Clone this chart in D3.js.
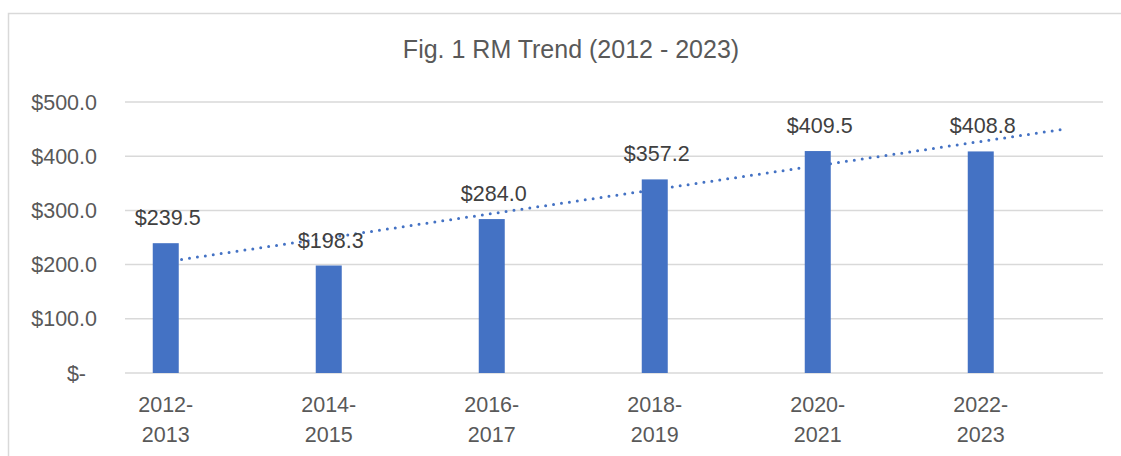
<!DOCTYPE html>
<html>
<head>
<meta charset="utf-8">
<script src="https://cdn.jsdelivr.net/npm/d3@7"></script>
<style>
  html, body { margin: 0; padding: 0; background: #fff; }
  svg { display: block; font-family: "Liberation Sans", Arial, sans-serif; }
</style>
</head>
<body>
<svg id="chart" width="1121" height="456"></svg>
<script>
const title = "Fig. 1 RM Trend (2012 - 2023)";
const categoriesLine1 = ["2012-", "2014-", "2016-", "2018-", "2020-", "2022-"];
const categoriesLine2 = ["2013", "2015", "2017", "2019", "2021", "2023"];
const values = [239.5, 198.3, 284.0, 357.2, 409.5, 408.8];
const yTicks = [0, 100, 200, 300, 400, 500];

const svg = d3.select("#chart");

// chart border (top and left visible)
svg.append("path")
  .attr("d", "M8.5,456 L8.5,13.5 L1121,13.5")
  .attr("fill", "none").attr("stroke", "#d9d9d9").attr("stroke-width", 1.5);

const x = d3.scaleLinear().domain([-0.25, 5.75]).range([125, 1103]);
const y = d3.scaleLinear().domain([0, 500]).range([373, 102]);

// title
svg.append("text")
  .attr("x", 571).attr("y", 58)
  .attr("text-anchor", "middle")
  .attr("font-size", 25).attr("fill", "#595959")
  .text(title);

// gridlines
svg.append("g").selectAll("line").data(yTicks).join("line")
  .attr("x1", x.range()[0]).attr("x2", x.range()[1])
  .attr("y1", d => y(d)).attr("y2", d => y(d))
  .attr("stroke", "#d9d9d9").attr("stroke-width", 1.5);

// y tick labels
svg.append("g").selectAll("text").data(yTicks).join("text")
  .attr("x", d => d === 0 ? 86 : 97)
  .attr("y", d => y(d) + 7.5)
  .attr("text-anchor", "end")
  .attr("font-size", 21.5).attr("fill", "#595959")
  .text(d => d === 0 ? "$-" : "$" + d.toFixed(1));

// trendline (linear regression over category index 1..n, forecast forward 0.5)
const n = values.length;
const xs = values.map((_, i) => i + 1);
const mx = d3.mean(xs), my = d3.mean(values);
const slope = d3.sum(xs.map((xi, i) => (xi - mx) * (values[i] - my))) / d3.sum(xs.map(xi => (xi - mx) ** 2));
const intercept = my - slope * mx;
const tStart = 1, tEnd = n + 0.5;
svg.append("line")
  .attr("x1", x(tStart - 1)).attr("y1", y(intercept + slope * tStart))
  .attr("x2", x(tEnd - 1)).attr("y2", y(intercept + slope * tEnd))
  .attr("stroke", "#4472C4").attr("stroke-width", 3)
  .attr("stroke-linecap", "round").attr("stroke-dasharray", "0 8");

// bars
const barW = 26;
svg.append("g").selectAll("rect").data(values).join("rect")
  .attr("x", (d, i) => x(i) - barW / 2)
  .attr("y", d => y(d))
  .attr("width", barW)
  .attr("height", d => y(0) - y(d))
  .attr("fill", "#4472C4");

// data labels
svg.append("g").selectAll("text").data(values).join("text")
  .attr("x", (d, i) => x(i) + 2)
  .attr("y", d => y(d) - 18)
  .attr("text-anchor", "middle")
  .attr("font-size", 21.5).attr("fill", "#404040")
  .text(d => "$" + d.toFixed(1));

// x labels
const xl = svg.append("g").selectAll("text").data(categoriesLine1).join("text")
  .attr("x", (d, i) => x(i))
  .attr("text-anchor", "middle")
  .attr("font-size", 21.5).attr("fill", "#595959");
xl.append("tspan").attr("x", (d, i) => x(i)).attr("y", 412).text(d => d);
xl.append("tspan").attr("x", (d, i) => x(i)).attr("y", 442).text((d, i) => categoriesLine2[i]);
</script>
</body>
</html>
